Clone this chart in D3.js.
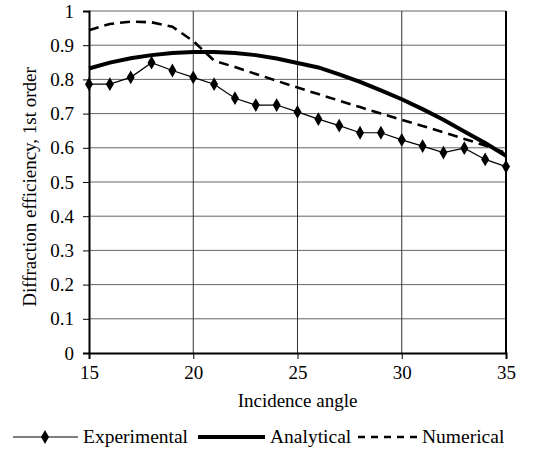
<!DOCTYPE html>
<html>
<head>
<meta charset="utf-8">
<script src="https://cdn.jsdelivr.net/npm/d3@7"></script>
<style>
  body { margin: 0; background: #fff; }
  svg text { font-family: "Liberation Serif", "DejaVu Serif", "Times New Roman", Times, serif !important; fill: #000; }
</style>
</head>
<body>
<div id="chart"></div>
<script>
// data
const angles = [15, 16, 17, 18, 19, 20, 21, 22, 23, 24, 25, 26, 27, 28, 29, 30, 31, 32, 33, 34, 35];
const experimental = [0.786, 0.786, 0.806, 0.849, 0.826, 0.806, 0.786, 0.745, 0.725, 0.725, 0.705,
  0.684, 0.665, 0.644, 0.644, 0.623, 0.605, 0.586, 0.599, 0.566, 0.545];
const analytical = [0.832, 0.849, 0.862, 0.871, 0.877, 0.880, 0.880, 0.877, 0.871, 0.861, 0.848,
  0.835, 0.815, 0.793, 0.768, 0.742, 0.713, 0.682, 0.648, 0.614, 0.577];
const numerical = [0.944, 0.962, 0.969, 0.967, 0.954, 0.912, 0.855, 0.836, 0.816, 0.796, 0.776,
  0.757, 0.738, 0.719, 0.700, 0.682, 0.664, 0.645, 0.626, 0.607, 0.585];
const xTicks = [15, 20, 25, 30, 35];
const yTicks = [0, 0.1, 0.2, 0.3, 0.4, 0.5, 0.6, 0.7, 0.8, 0.9, 1];

const width = 549, height = 456;
const serif = '"Liberation Serif", "DejaVu Serif", "Times New Roman", Times, serif';
const svg = d3.select("#chart").append("svg")
  .attr("width", width)
  .attr("height", height)
  .attr("font-family", serif);

const x = d3.scaleLinear().domain([15, 35]).range([89, 506]);
const y = d3.scaleLinear().domain([0, 1]).range([353, 11]);

// grid lines
svg.append("g")
  .selectAll("line")
  .data(yTicks.slice(1))
  .enter().append("line")
  .attr("x1", x(15)).attr("x2", x(35))
  .attr("y1", d => y(d)).attr("y2", d => y(d))
  .attr("stroke", "#666")
  .attr("stroke-width", 1);

svg.append("g")
  .selectAll("line")
  .data(xTicks.slice(1, -1))
  .enter().append("line")
  .attr("x1", d => x(d)).attr("x2", d => x(d))
  .attr("y1", y(0)).attr("y2", y(1))
  .attr("stroke", "#333")
  .attr("stroke-width", 1);

// right border
svg.append("line")
  .attr("x1", x(35)).attr("x2", x(35))
  .attr("y1", y(0)).attr("y2", y(1))
  .attr("stroke", "#000")
  .attr("stroke-width", 2);

// axes
const xAxis = svg.append("g")
  .attr("transform", `translate(0,${y(0)})`)
  .call(d3.axisBottom(x).tickValues(xTicks).tickSize(6).tickPadding(4).tickFormat(d3.format("d")));
const yAxis = svg.append("g")
  .attr("transform", `translate(${x(15)},0)`)
  .call(d3.axisLeft(y).tickValues(yTicks).tickSize(6).tickPadding(9).tickFormat(d => d === 0 || d === 1 ? d : d3.format(".1f")(d)));

[xAxis, yAxis].forEach(a => {
  a.attr("font-family", serif).attr("font-size", 19);
  a.select(".domain").attr("stroke", "#000").attr("stroke-width", 2);
  a.selectAll(".tick line").attr("stroke", "#000");
  a.selectAll(".tick text").attr("fill", "#000");
});
xAxis.selectAll(".tick text").attr("dy", "0.85em");

// series
const lineGen = vals => d3.line()
  .x((d, i) => x(angles[i]))
  .y(d => y(d))(vals);

svg.append("path")
  .attr("d", lineGen(numerical))
  .attr("fill", "none")
  .attr("stroke", "#000")
  .attr("stroke-width", 2.6)
  .attr("stroke-dasharray", "10,6");

svg.append("path")
  .attr("d", lineGen(analytical))
  .attr("fill", "none")
  .attr("stroke", "#000")
  .attr("stroke-width", 4);

svg.append("path")
  .attr("d", lineGen(experimental))
  .attr("fill", "none")
  .attr("stroke", "#000")
  .attr("stroke-width", 1.2);

const diamond = d3.symbol().type(d3.symbolDiamond).size(55);
svg.append("g")
  .selectAll("path")
  .data(experimental)
  .enter().append("path")
  .attr("d", diamond)
  .attr("transform", (d, i) => `translate(${x(angles[i])},${y(d)})`)
  .attr("fill", "#000");

// axis titles
svg.append("text")
  .attr("x", (x(15) + x(35)) / 2)
  .attr("y", 407)
  .attr("text-anchor", "middle")
  .attr("font-size", 19)
  .text("Incidence angle");

svg.append("text")
  .attr("transform", `translate(36,${(y(0) + y(1)) / 2 + 5}) rotate(-90)`)
  .attr("text-anchor", "middle")
  .attr("font-size", 19)
  .text("Diffraction efficiency, 1st order");

// legend
const legendY = 437;
const legend = svg.append("g").attr("font-size", 19.5);
legend.append("line").attr("x1", 13).attr("x2", 78).attr("y1", legendY).attr("y2", legendY)
  .attr("stroke", "#000").attr("stroke-width", 1.2);
legend.append("path").attr("d", diamond).attr("transform", `translate(45,${legendY})`).attr("fill", "#000");
legend.append("text").attr("x", 83).attr("y", legendY + 6).text("Experimental");

legend.append("line").attr("x1", 198).attr("x2", 265).attr("y1", legendY).attr("y2", legendY)
  .attr("stroke", "#000").attr("stroke-width", 4);
legend.append("text").attr("x", 270).attr("y", legendY + 6).text("Analytical");

legend.append("line").attr("x1", 358).attr("x2", 418).attr("y1", legendY).attr("y2", legendY)
  .attr("stroke", "#000").attr("stroke-width", 2.6).attr("stroke-dasharray", "7,6");
legend.append("text").attr("x", 422).attr("y", legendY + 6).text("Numerical");
</script>
</body>
</html>
